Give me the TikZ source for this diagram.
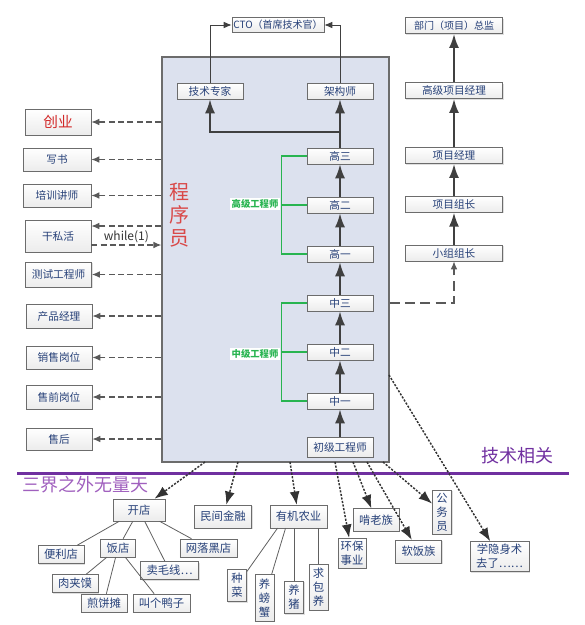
\documentclass[tikz,border=0pt]{standalone}
\usepackage{fontspec}
\setmainfont{Noto Sans CJK SC}
\usepackage{tikz}
\usetikzlibrary{positioning}
\usetikzlibrary{arrows.meta}
\usetikzlibrary{shadows}
\definecolor{jobblue}{RGB}{38,64,120}
\definecolor{coderbg}{RGB}{220,225,238}
\definecolor{linegray}{RGB}{64,64,64}
\definecolor{bracegreen}{RGB}{40,180,80}
\definecolor{darkpurple}{RGB}{112,48,160}
\definecolor{lightpurple}{RGB}{160,96,190}
\definecolor{startred}{RGB}{210,40,40}
\tikzstyle{job} = [rectangle, draw=gray!85!black, top color=white, bottom color=gray!15,
    text=jobblue, font=\fontsize{8}{9}\selectfont, inner sep=1pt,
    drop shadow={shadow xshift=0.8pt, shadow yshift=-0.8pt, opacity=0.25}]
\tikzstyle{rung} = [job, minimum width=49.5pt, minimum height=12pt]
\tikzstyle{lead} = [job, minimum width=73pt, minimum height=12pt]
\tikzstyle{exit} = [job, minimum width=49.5pt, minimum height=17.5pt]
\tikzstyle{leaf} = [job, font=\fontsize{8.5}{10.5}\selectfont, inner xsep=4.5pt,
    inner ysep=2pt, minimum height=13.5pt, align=center]
\tikzstyle{tall} = [leaf, inner xsep=3pt, inner ysep=3pt]
\tikzstyle{grade} = [fill=white, text=bracegreen, inner sep=1pt,
    font=\fontsize{7}{8}\selectfont\bfseries]
\tikzstyle{climb} = [draw, line width=1.5pt, linegray, -{Latex[length=10.5pt, width=7.5pt]}]
\tikzstyle{toline} = [draw, line width=0.7pt, linegray, -{Latex[length=6pt, width=5pt]}]
\tikzstyle{dashline} = [draw, line width=1pt, gray!70!black, dash pattern=on 4.5pt off 2.5pt,
    -{Latex[length=6pt, width=5pt]}]
\tikzstyle{dotline} = [draw, line width=1.1pt, black!80, dash pattern=on 1.6pt off 1.1pt,
    -{Latex[length=10pt, width=7.5pt]}]
\tikzstyle{branch} = [draw, gray!75!black, line width=0.6pt]
\tikzstyle{brace} = [draw, bracegreen, line width=1.1pt]

\begin{document}
\begin{tikzpicture}[x=0.75pt, y=-0.75pt, node distance=36.75pt]
    \useasboundingbox (0,0) rectangle (585,625);
    % Programmer panel
    \node[draw=gray!85!black, fill=coderbg, line width=0.8pt, inner sep=0pt,
        minimum width=170.25pt, minimum height=303.75pt] (coder) at (275.5,259.5) {};
    \node[text=startred!85, font=\fontsize{15}{17.5}\selectfont, align=center] (cxy) at (179,215) {程\\序\\员};
    % Place nodes
    \node[job, font=\fontsize{7.5}{9}\selectfont, minimum width=68pt, minimum height=11pt] (cto) at (278,25) {CTO（首席技术官）};
    \node[rung, minimum height=15pt] (cj) at (340,447) {初级工程师};
    \node[rung] (z1) at (340,401) {中一};
    \node[rung, above of=z1] (z2) {中二};
    \node[rung, above of=z2] (z3) {中三};
    \node[rung, above of=z3] (g1) {高一};
    \node[rung, above of=g1] (g2) {高二};
    \node[rung, above of=g2] (g3) {高三};
    \node[rung, above of=g3, node distance=48.75pt] (jgs) {架构师};
    \node[rung] (jszj) at (210,91) {技术专家};
    % Management ladder
    \node[lead] (xz) at (454,253) {小组组长};
    \node[lead, above of=xz, node distance=36.5pt] (xmzz) {项目组长};
    \node[lead, above of=xmzz, node distance=36.5pt] (xmjl) {项目经理};
    \node[lead, above of=xmjl, node distance=48.75pt] (gjxm) {高级项目经理};
    \node[lead, above of=gjxm, node distance=48.75pt, font=\fontsize{7.5}{9}\selectfont] (zj) {部门（项目）总监};
    % Left column
    \node[exit, minimum height=19.5pt, text=startred, font=\fontsize{11}{12}\selectfont] (cy) at (58,122) {创业};
    \node[exit, minimum width=51pt] (xs) at (57,159.5) {写书};
    \node[exit, minimum width=51pt] (px) at (57,195.5) {培训讲师};
    \node[exit, minimum height=24pt] (gsh) at (58,236) {干私活};
    \node[exit, minimum height=19pt] (cs) at (58.5,274.5) {测试工程师};
    \node[exit, minimum height=18pt] (cp) at (59,316) {产品经理};
    \node[exit] (xsg) at (59,357.5) {销售岗位};
    \node[exit, minimum height=18pt] (sq) at (59,397) {售前岗位};
    \node[exit, minimum height=16.5pt] (sh) at (59,439) {售后};
    % Beyond the line
    \node[leaf, minimum width=39pt, minimum height=16.5pt] (kd) at (139,510) {开店};
    \node[leaf, minimum height=17pt] (mj) at (223,516.5) {民间金融};
    \node[leaf, minimum height=17pt] (yj) at (298.5,516.5) {有机农业};
    \node[leaf] (bl) at (61,554.5) {便利店};
    \node[leaf] (fd) at (118,548) {饭店};
    \node[leaf] (wl) at (208.5,548) {网落黑店};
    \node[leaf] (mx) at (169.5,570.5) {卖毛线…};
    \node[leaf] (rj) at (75,583.5) {肉夹馍};
    \node[leaf] (jb) at (104,603) {煎饼摊};
    \node[leaf] (jy) at (161.5,603) {叫个鸭子};
    \node[tall] (zc) at (237,585.5) {种\\菜};
    \node[tall] (ppx) at (264.5,598) {养\\螃\\蟹};
    \node[tall] (yz) at (294,597.5) {养\\猪};
    \node[tall] (qby) at (318.5,587) {求\\包\\养};
    \node[leaf, inner xsep=2pt] (hb) at (352,553) {环保\\事业};
    \node[leaf, minimum height=17pt] (kl) at (376,520) {啃老族};
    \node[leaf, minimum height=17pt] (rf) at (418.5,551.5) {软饭族};
    \node[tall, inner ysep=2pt] (gwy) at (442,512) {公\\务\\员};
    \node[leaf] (xy) at (499.5,556.5) {学隐身术\\去了……};
    % Separator
    \coordinate (sepl) at (17,473);
    \coordinate (sepr) at (569,473);
    \draw[darkpurple, line width=2.25pt] (sepl) -- (sepr);
    \node[text=darkpurple, font=\fontsize{13.5}{15}\selectfont] (jsxg) at (517,456) {技术相关};
    \node[text=lightpurple, font=\fontsize{13.5}{15}\selectfont] (sjzw) at (85.5,485) {三界之外无量天};
    % Draw edges
    \path [climb] (cj) -- (z1);
    \path [climb] (z1) -- (z2);
    \path [climb] (z2) -- (z3);
    \path [climb] (z3) -- (g1);
    \path [climb] (g1) -- (g2);
    \path [climb] (g2) -- (g3);
    \path [climb] (g3) -- (jgs);
    \coordinate (bend) at (340,132);
    \path [climb] (bend) -| (jszj.south);
    \path [toline] (jszj.north) |- (cto.west);
    \path [toline] (jgs.north) |- (cto.east);
    \path [climb] (xz) -- (xmzz);
    \path [climb] (xmzz) -- (xmjl);
    \path [climb] (xmjl) -- (gjxm);
    \path [climb] (gjxm) -- (zj);
    \path [dashline, dash pattern=on 7.5pt off 4pt] (z3 -| coder.east) -| (xz.south);
    \draw [brace] (g1.west) -- ++(-25,0) |- (g3.west);
    \draw [brace] (g2.west) -- ++(-25,0);
    \draw [brace] (z1.west) -- ++(-25,0) |- (z3.west);
    \draw [brace] (z2.west) -- ++(-25,0);
    \node[grade] (gjgcs) at (255,204) {高级工程师};
    \node[grade] (zjgcs) at (255,354) {中级工程师};
    \foreach \n in {cy, xs, px, cs, cp, xsg, sq, sh}
        \path [dashline] (\n.east -| coder.west) -- (\n.east);
    \path [dashline] ([yshift=7.5pt]gsh.east -| coder.west) -- ([yshift=7.5pt]gsh.east);
    \path [dashline] ([yshift=-6.75pt]gsh.east) -- ([yshift=-6.75pt]gsh.east -| coder.west)
        node[midway, yshift=6.5pt, inner sep=0pt, text=black!80, font=\fontsize{9}{10}\selectfont] (loop) {while(1)};
    \foreach \x/\t in {205/kd, 238/mj, 290/yj, 335/hb, 353/kl, 367/rf, 383/gwy} {
        \coordinate (s-\t) at (\x,462);
        \path [dotline] (s-\t) -- (\t);
    }
    \coordinate (s-xy) at (389,375);
    \path [dotline] (s-xy) -- (xy);
    \path [branch] (kd) -- (bl);
    \path [branch] (kd) -- (fd);
    \path [branch] (kd) -- (mx);
    \path [branch] (kd) -- (wl);
    \path [branch] (fd) -- (rj);
    \path [branch] (fd) -- (jb);
    \path [branch] (fd) -- (jy);
    \path [branch] ([xshift=6pt]yj.south west) -- (zc);
    \path [branch] ([xshift=12pt]yj.south west) -- (ppx);
    \path [branch] (yj.south -| yz.north) -- (yz.north);
    \path [branch] (yj.south -| qby.north) -- (qby.north);
\end{tikzpicture}
\end{document}
